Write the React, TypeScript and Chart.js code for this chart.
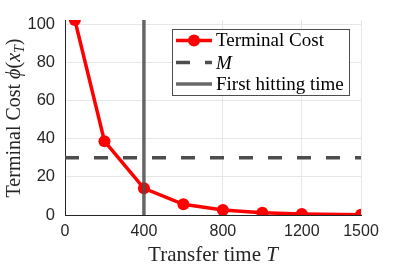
import React, { useEffect, useRef } from "react";
import { Chart, registerables } from "chart.js";

Chart.register(...registerables);

const transferTimes = [50, 200, 400, 600, 800, 1000, 1200, 1500];
const terminalCost = [102.3, 38.7, 14.0, 5.6, 2.6, 1.2, 0.5, 0.1];
const thresholdM = 30;
const firstHittingTime = 400;
const xTicks = [0, 400, 800, 1200, 1500];
const yTicks = [0, 20, 40, 60, 80, 100];
const legendLabels = ["Terminal Cost", "M", "First hitting time"];

const SERIF = "'Liberation Serif', 'DejaVu Serif', serif";
const SANS = "'Liberation Sans', Arial, sans-serif";

type Part = { t: string; italic?: boolean; sub?: boolean };

function drawParts(ctx: CanvasRenderingContext2D, parts: Part[], size: number, cx: number, cy: number) {
  const fontOf = (p: Part) => `${p.italic ? "italic " : ""}${p.sub ? Math.round(size * 0.7) : size}px ${SERIF}`;
  let total = 0;
  for (const p of parts) {
    ctx.font = fontOf(p);
    total += ctx.measureText(p.t).width;
  }
  let x = cx - total / 2;
  ctx.textBaseline = "alphabetic";
  ctx.textAlign = "left";
  for (const p of parts) {
    ctx.font = fontOf(p);
    ctx.fillText(p.t, x, cy + (p.sub ? size * 0.22 : 0));
    x += ctx.measureText(p.t).width;
  }
}

const customPlugin = {
  id: "customDecor",
  afterDatasetsDraw(chart: any) {
    const ctx: CanvasRenderingContext2D = chart.ctx;
    const area = chart.chartArea;
    ctx.save();
    // Legend
    const bx = 172, by = 29, bw = 178, bh = 67;
    ctx.fillStyle = "#ffffff";
    ctx.fillRect(bx, by, bw, bh);
    ctx.strokeStyle = "#4d4d4d";
    ctx.lineWidth = 1;
    ctx.strokeRect(bx + 0.5, by + 0.5, bw - 1, bh - 1);
    const rows = [40.5, 62.5, 84];
    const ds = chart.data.datasets;
    rows.forEach((ry, i) => {
      const d = ds[i];
      ctx.save();
      ctx.strokeStyle = d.borderColor;
      ctx.lineWidth = d.borderWidth;
      ctx.setLineDash(d.borderDash || []);
      ctx.beginPath();
      ctx.moveTo(176, ry);
      ctx.lineTo(212, ry);
      ctx.stroke();
      ctx.restore();
      if (d.pointRadius > 0) {
        ctx.fillStyle = d.pointBackgroundColor;
        ctx.beginPath();
        ctx.arc(194, ry, d.pointRadius, 0, Math.PI * 2);
        ctx.fill();
      }
      ctx.fillStyle = "#000000";
      ctx.font = `${i === 1 ? "italic " : ""}19px ${SERIF}`;
      ctx.textAlign = "left";
      ctx.textBaseline = "middle";
      ctx.fillText(legendLabels[i], 216, ry + 1);
    });
    // Axis titles
    ctx.fillStyle = "#262626";
    drawParts(ctx, [{ t: "Transfer time " }, { t: "T", italic: true }], 21, (area.left + area.right) / 2, 261);
    ctx.save();
    ctx.translate(20, 118);
    ctx.rotate(-Math.PI / 2);
    drawParts(
      ctx,
      [
        { t: "Terminal Cost " },
        { t: "ϕ", italic: true },
        { t: "(" },
        { t: "x", italic: true },
        { t: "T", italic: true, sub: true },
        { t: ")" },
      ],
      20,
      0,
      0
    );
    ctx.restore();
    ctx.restore();
  },
};

export default function App() {
  const ref = useRef<HTMLCanvasElement>(null);
  useEffect(() => {
    document.body.style.margin = "0";
    const yMax = Math.max(...terminalCost);
    const chart = new Chart(ref.current!, {
      type: "line",
      data: {
        datasets: [
          {
            label: legendLabels[0],
            data: transferTimes.map((x, i) => ({ x, y: terminalCost[i] })),
            borderColor: "#ff0000",
            backgroundColor: "#ff0000",
            pointBackgroundColor: "#ff0000",
            pointBorderWidth: 0,
            pointRadius: 6,
            borderWidth: 3.5,
            order: 3,
          } as any,
          {
            label: legendLabels[1],
            data: [
              { x: 0, y: thresholdM },
              { x: 1500, y: thresholdM },
            ],
            borderColor: "#4d4d4d",
            borderWidth: 3.5,
            borderDash: [14, 15],
            pointRadius: 0,
            order: 2,
          } as any,
          {
            label: legendLabels[2],
            data: [
              { x: firstHittingTime, y: 0 },
              { x: firstHittingTime, y: yMax },
            ],
            borderColor: "rgba(77,77,77,0.85)",
            borderWidth: 3.5,
            pointRadius: 0,
            order: 1,
          } as any,
        ],
      },
      options: {
        animation: false,
        responsive: false,
        layout: { padding: { top: 20, right: 38, left: 0, bottom: 0 } },
        plugins: { legend: { display: false }, tooltip: { enabled: false } },
        scales: {
          x: {
            type: "linear",
            min: 0,
            max: 1500,
            afterBuildTicks: (s: any) => {
              s.ticks = xTicks.map((v) => ({ value: v }));
            },
            afterFit: (s: any) => {
              s.height = 51;
            },
            grid: { color: "#e6e6e6", drawTicks: false, lineWidth: 1 },
            border: { color: "#262626", width: 1 },
            ticks: {
              color: "#262626",
              font: { family: SANS, size: 16 },
              padding: 7,
              maxRotation: 0,
              autoSkip: false,
              callback: (v: any) => String(v),
            },
          },
          y: {
            type: "linear",
            min: 0,
            max: yMax,
            afterBuildTicks: (s: any) => {
              s.ticks = yTicks.map((v) => ({ value: v }));
            },
            afterFit: (s: any) => {
              s.width = 65;
            },
            grid: { color: "#e6e6e6", drawTicks: false, lineWidth: 1 },
            border: { color: "#262626", width: 1 },
            ticks: {
              color: "#262626",
              font: { family: SANS, size: 16.5 },
              padding: 10,
              autoSkip: false,
              callback: (v: any) => String(v),
            },
          },
        },
      },
      plugins: [customPlugin],
    });
    return () => chart.destroy();
  }, []);
  return (
    <div style={{ width: 399, height: 266 }}>
      <canvas ref={ref} width={399} height={266} style={{ display: "block" }} />
    </div>
  );
}
